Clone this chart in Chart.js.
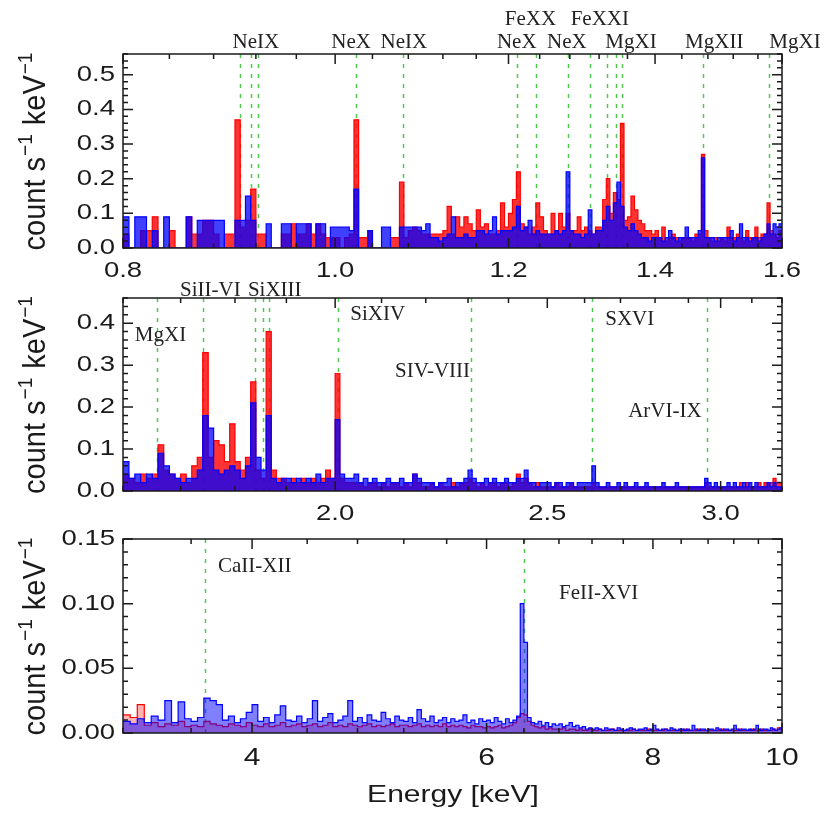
<!DOCTYPE html>
<html>
<head>
<meta charset="utf-8">
<title>X-ray spectrum</title>
<script src="https://cdn.jsdelivr.net/npm/chart.js@4.4.0/dist/chart.umd.min.js"></script>
<style>
  html, body { margin: 0; padding: 0; background: #fff; }
  #wrap { position: relative; width: 824px; height: 813px; }
  canvas { position: absolute; left: 0; }
</style>
</head>
<body>
<div id="wrap">
  <canvas id="soft" width="824" height="280" style="top:0"></canvas>
  <canvas id="mid" width="824" height="245" style="top:280px"></canvas>
  <canvas id="hard" width="824" height="288" style="top:525px"></canvas>
</div>
<script>
// ---- spectra: 0.8-1.6 keV, 5 eV bins, values in 0.01 count/s/keV ----
const softRed = [
  4,0,0,5,5,9,0,0,5,0,   0,9,4,4,8,8,4,0,4,4,
  37,6,8,17,4,4,0,0,0,4, 4,7,4,4,7,4,7,4,3,3,
  3,0,3,4,37,3,3,5,0,0,  0,0,3,3,19,3,5,6,5,4,
  4,4,4,4,5,12,4,9,6,9,  7,5,11,6,7,4,4,5,13,6,
  10,14,22,7,6,4,6,13,9,5, 4,10,5,10,6,10,5,5,9,5,
  6,5,4,6,6,14,20,10,16,14, 36,8,9,15,11,8,7,5,5,4,
  5,3,6,2,3,4,3,2,3,3,   3,2,4,4,27,5,3,2,3,2,
  3,2,6,3,3,4,3,2,5,3,   3,6,3,4,4,13,5,4,3,5
];
const softBlue = [
  9,0,9,9,0,5,0,9,0,0,   0,9,0,8,8,8,8,8,0,0,
  8,8,15,8,0,0,7,0,0,7,  7,0,7,7,7,0,7,7,0,6,
  6,6,6,5,17,0,0,5,0,0,  6,6,0,0,6,6,6,6,6,5,
  7,3,3,2,3,4,9,3,3,4,   3,3,5,5,4,5,9,4,5,5,
  5,6,12,5,6,8,4,5,4,4,  4,4,5,4,5,22,5,4,4,3,
  4,11,4,5,5,8,12,8,13,19, 12,6,5,7,5,4,3,3,2,3,
  3,3,2,3,5,3,2,3,3,6,   3,3,3,5,26,3,3,3,2,3,
  3,3,3,5,2,3,7,3,3,2,   3,3,2,3,4,7,4,7,6,7
];

// ---- 1.6-3.2 keV, 10 eV bins, values in 0.01 count/s/keV ----
const midRed = [
  4,3,2,4,3,4,11,5,4,3,  4,2,6,8,33,8,12,11,7,16,
  7,5,8,26,5,3,38,5,3,3, 2,3,2,3,2,3,2,3,5,3,
  28,3,2,2,2,2,1,2,2,1,  2,1,2,2,1,2,1,4,2,1,
  1,2,1,2,1,1,2,1,2,2,   3,2,1,2,1,2,2,1,2,2,
  1,2,4,2,3,2,1,2,1,1,   1,1,2,1,1,1,2,1,1,1,
  1,1,2,1,1,1,1,1,1,1,   1,1,1,1,1,1,1,1,1,1,
  1,1,1,1,1,1,1,1,1,1,   1,1,1,1,1,2,1,1,1,1,
  1,1,1,1,1,1,2,1,2,1,   1,1,2,1,2,2,2,3,2,2
];
const midBlue = [
  7,3,4,2,4,3,9,6,4,3,   2,3,3,5,18,15,5,4,5,6,
  5,3,6,21,8,5,18,3,2,3, 3,2,3,2,3,2,4,2,3,3,
  17,4,3,3,4,2,3,2,3,2,  2,3,2,2,3,2,2,4,3,2,
  2,2,1,2,2,3,1,2,2,3,   5,3,2,2,3,2,3,2,2,3,
  2,2,3,3,5,2,2,1,2,2,   2,1,2,2,1,2,2,1,2,2,
  2,2,6,2,1,1,2,1,1,2,   1,2,1,1,2,1,1,2,1,1,
  1,1,2,1,1,1,2,1,1,1,   1,1,1,1,1,3,2,1,2,1,
  1,1,2,1,2,1,1,2,1,2,   1,2,1,1,1,2,1,2,1,1
];

// ---- 3.2-10 keV, 40 eV bins, values in 0.001 count/s/keV ----
const hardRed = [
  14,12,22,6,8,5,7,6,9,5,  6,5,9,7,6,5,7,6,5,8,
  6,5,7,5,6,8,5,6,7,5,     6,7,5,6,8,5,6,5,7,6,
  5,6,7,5,6,5,6,7,5,6,     6,5,6,7,5,6,5,6,5,7,
  5,6,5,6,5,4,6,5,5,4,     5,4,5,6,4,5,6,8,12,15,
  14,9,6,5,4,5,3,4,3,3,    3,4,2,3,3,2,3,2,2,3,
  2,2,3,2,2,2,3,2,2,2,     2,2,2,3,2,2,2,2,3,2,
  2,2,2,2,3,2,2,2,2,2,     2,3,2,2,2,2,3,2,2,2,
  2,2,2,2,2,3,2,2,2,2,     2,2,3,2,2,2,2,3,2,2,
  2,3,2,2,2,2,3,2,4,3
];
const hardBlue = [
  9,7,11,8,13,10,25,8,24,11,  9,12,27,25,22,10,13,8,11,16,
  22,9,12,8,14,21,10,9,13,8,  11,25,9,12,15,8,10,13,25,9,
  12,8,14,10,9,16,11,8,13,10, 9,12,8,18,11,9,13,8,10,12,
  8,11,9,10,14,8,10,7,11,9,   10,8,12,9,7,11,8,10,13,100,
  70,12,8,7,9,6,8,5,7,6,      7,5,6,8,5,6,4,5,3,4,
  3,4,3,2,4,3,3,2,4,3,        2,3,4,3,2,3,3,4,2,3,
  6,3,2,3,3,2,4,3,2,3,        3,2,3,2,6,3,2,3,3,2,
  3,3,2,4,3,2,3,3,2,3,        6,3,2,3,3,2,3,2,3,6,
  3,2,3,3,2,4,3,2,3,4
];

// emission line energies (keV)
const softLines = [0.905, 0.915, 0.922, 1.022, 1.074, 1.211, 1.235, 1.277, 1.307, 1.331, 1.343, 1.352, 1.472, 1.579];
const midLines = [1.659, 1.740, 1.839, 1.854, 1.865, 2.006, 2.307, 2.620, 2.957];
const hardLines = [3.69, 6.40];

// line ids: [text, energy, count rate] anchors in data units
const softLabels = [
  ['NeIX', 0.920, 0.577], ['NeX', 1.017, 0.577], ['NeIX', 1.075, 0.577],
  ['NeX', 1.2105, 0.577], ['NeX', 1.276, 0.577], ['MgXI', 1.365, 0.577],
  ['MgXII', 1.490, 0.577], ['MgXI', 1.622, 0.577],
  ['FeXX', 1.228, 0.644], ['FeXXI', 1.321, 0.644]
];
const midLabels = [
  ['MgXI', 1.620, 0.357], ['SiII-VI', 1.699, 0.464], ['SiXIII', 1.8246, 0.464],
  ['SiXIV', 2.032, 0.407], ['SIV-VIII', 2.130, 0.271],
  ['SXVI', 2.657, 0.395], ['ArVI-IX', 2.722, 0.176]
];
const hardLabels = [['CaII-XII', 3.771, 0.1244], ['FeII-XVI', 6.801, 0.1036]];

// tick values
const softTicks = [0.8, 1.0, 1.2, 1.4, 1.6];
const midTicks = [2.0, 2.5, 3.0];
const hardTicks = [4, 6, 8, 10];
const softYTicks = [0, 0.1, 0.2, 0.3, 0.4, 0.5];
const midYTicks = [0, 0.1, 0.2, 0.3, 0.4];
const hardYTicks = [0, 0.05, 0.10, 0.15];

function range(from, to, step) {
  const out = [];
  for (let v = from; v <= to + step * 1e-6; v += step) out.push(+v.toFixed(6));
  return out;
}

// step histogram: each value holds from its bin start to the next
function histogram(start, width, values, unit) {
  const pts = values.map((v, i) => ({ x: start + i * width, y: v * unit }));
  pts.push({ x: start + values.length * width, y: values[values.length - 1] * unit });
  return pts;
}

const SANS = '"Liberation Sans", Arial, sans-serif';
const SERIF = '"Liberation Serif", "Times New Roman", serif';
const STRETCH = 1.25;

function stretchedText(ctx, text, x, y, size, align, baseline) {
  ctx.save();
  ctx.translate(x, y);
  ctx.scale(STRETCH, 1);
  ctx.font = size + 'px ' + SANS;
  ctx.textAlign = align;
  ctx.textBaseline = baseline;
  ctx.fillText(text, 0, 0);
  ctx.restore();
}

function drawYTitle(ctx, x, cy) {
  const parts = [['count s', 29, 0], ['\u22121', 19, -12], [' keV', 29, 0], ['\u22121', 19, -12]];
  let total = 0;
  parts.forEach(p => { ctx.font = p[1] + 'px ' + SANS; total += ctx.measureText(p[0]).width + (p[2] ? 2 : 0); });
  ctx.save();
  ctx.translate(x, cy);
  ctx.rotate(-Math.PI / 2);
  ctx.scale(1, 1.1);
  ctx.textBaseline = 'alphabetic';
  ctx.textAlign = 'left';
  let pos = -total / 2;
  parts.forEach(p => {
    ctx.font = p[1] + 'px ' + SANS;
    ctx.fillText(p[0], pos + (p[2] ? 1 : 0), p[2]);
    pos += ctx.measureText(p[0]).width + (p[2] ? 2 : 0);
  });
  ctx.restore();
}

function axesPlugin(cfg) {
  return {
    id: 'axes_' + cfg.id,
    beforeDatasetsDraw(chart) {
      const { ctx, chartArea: a, scales: { x } } = chart;
      ctx.save();
      ctx.strokeStyle = 'rgb(80,200,80)';
      ctx.lineWidth = 1.5;
      ctx.setLineDash([4, 6]);
      cfg.lines.forEach(e => {
        const px = Math.round(x.getPixelForValue(e)) + 0.5;
        ctx.beginPath();
        ctx.moveTo(px, a.top);
        ctx.lineTo(px, a.bottom);
        ctx.stroke();
      });
      ctx.restore();
    },
    afterDatasetsDraw(chart) {
      const { ctx, chartArea: a, scales: { x, y } } = chart;
      ctx.save();
      ctx.strokeStyle = '#1a1a1a';
      ctx.fillStyle = '#1a1a1a';
      ctx.lineWidth = 1.5;
      ctx.strokeRect(a.left, a.top, a.right - a.left, a.bottom - a.top);

      // inward ticks on all four sides
      ctx.beginPath();
      const xTick = (v, len) => {
        const px = x.getPixelForValue(v);
        ctx.moveTo(px, a.bottom); ctx.lineTo(px, a.bottom - len);
        ctx.moveTo(px, a.top); ctx.lineTo(px, a.top + len);
      };
      const yTick = (v, len) => {
        const py = y.getPixelForValue(v);
        ctx.moveTo(a.left, py); ctx.lineTo(a.left + len, py);
        ctx.moveTo(a.right, py); ctx.lineTo(a.right - len, py);
      };
      cfg.xMinor.forEach(v => xTick(v, 5));
      cfg.xTicks.forEach(v => xTick(v, 10));
      cfg.yMinor.forEach(v => yTick(v, 5));
      cfg.yTicks.forEach(v => yTick(v, 10));
      ctx.stroke();

      cfg.xTicks.forEach(v => {
        stretchedText(ctx, String(cfg.xFmt(v)), x.getPixelForValue(v), a.bottom + cfg.xLabelDy, cfg.xLabelSize, 'center', 'middle');
      });
      cfg.yTicks.forEach(v => {
        stretchedText(ctx, v.toFixed(cfg.yDigits), 115, y.getPixelForValue(v), 22, 'right', 'middle');
      });
      drawYTitle(ctx, 45, (a.top + a.bottom) / 2);
      if (cfg.xTitle) stretchedText(ctx, cfg.xTitle, 453, a.bottom + 69, 24, 'center', 'alphabetic');

      // line identifications
      ctx.font = '21px ' + SERIF;
      ctx.fillStyle = '#222';
      ctx.textAlign = cfg.labelAlign;
      ctx.textBaseline = 'alphabetic';
      cfg.labels.forEach(([t, e, v]) => {
        ctx.fillText(t, x.getPixelForValue(e), y.getPixelForValue(v));
      });
      ctx.restore();
    }
  };
}

function makePanel(cfg) {
  // red underneath (order 1), blue drawn over it (order 0)
  const datasets = [
    { series: cfg.red, line: '#ff0000', fill: cfg.redFill, order: 1 },
    { series: cfg.blue, line: '#0000ff', fill: cfg.blueFill, order: 0 }
  ].map(d => ({
    data: histogram(cfg.start, cfg.width, d.series, cfg.unit),
    order: d.order,
    stepped: 'before',
    borderColor: d.line,
    backgroundColor: d.fill,
    fill: 'origin',
    borderWidth: 1.2,
    pointRadius: 0
  }));
  return new Chart(document.getElementById(cfg.id), {
    type: 'line',
    data: { datasets },
    options: {
      responsive: false,
      animation: false,
      devicePixelRatio: 1,
      layout: { padding: { left: 123, right: 42, top: cfg.padTop, bottom: cfg.padBottom } },
      plugins: { legend: { display: false }, tooltip: { enabled: false } },
      scales: {
        x: { type: 'logarithmic', min: cfg.xMin, max: cfg.xMax, display: false },
        y: { type: 'linear', min: 0, max: cfg.yMax, display: false }
      }
    },
    plugins: [axesPlugin(cfg)]
  });
}

makePanel({
  id: 'soft', red: softRed, blue: softBlue, start: 0.8, width: 0.005, unit: 0.01,
  xMin: 0.8, xMax: 1.6, yMax: 0.56, padTop: 54, padBottom: 32,
  xTicks: softTicks, xMinor: range(0.8, 1.6, 0.04), xFmt: v => v.toFixed(1),
  yTicks: softYTicks, yMinor: range(0, 0.56, 0.02), yDigits: 1,
  xLabelDy: 23, xLabelSize: 22,
  lines: softLines, labels: softLabels, labelAlign: 'center',
  redFill: 'rgba(255,0,0,0.8)', blueFill: 'rgba(0,0,255,0.75)'
});

makePanel({
  id: 'mid', red: midRed, blue: midBlue, start: 1.6, width: 0.01, unit: 0.01,
  xMin: 1.6, xMax: 3.2, yMax: 0.46, padTop: 18, padBottom: 34,
  xTicks: midTicks, xMinor: range(1.6, 3.2, 0.1), xFmt: v => v.toFixed(1),
  yTicks: midYTicks, yMinor: range(0, 0.46, 0.02), yDigits: 1,
  xLabelDy: 23, xLabelSize: 22,
  lines: midLines, labels: midLabels, labelAlign: 'left',
  redFill: 'rgba(255,0,0,0.8)', blueFill: 'rgba(0,0,255,0.75)'
});

makePanel({
  id: 'hard', red: hardRed, blue: hardBlue, start: 3.2, width: 0.04, unit: 0.001,
  xMin: 3.2, xMax: 10, yMax: 0.15, padTop: 14, padBottom: 80,
  xTicks: hardTicks, xMinor: range(3.2, 10, 0.4), xFmt: v => v,
  yTicks: hardYTicks, yMinor: range(0, 0.15, 0.01), yDigits: 2,
  xLabelDy: 25, xLabelSize: 24, xTitle: 'Energy [keV]',
  lines: hardLines, labels: hardLabels, labelAlign: 'left',
  redFill: 'rgba(255,0,0,0.3)', blueFill: 'rgba(0,0,255,0.5)'
});
</script>
</body>
</html>
